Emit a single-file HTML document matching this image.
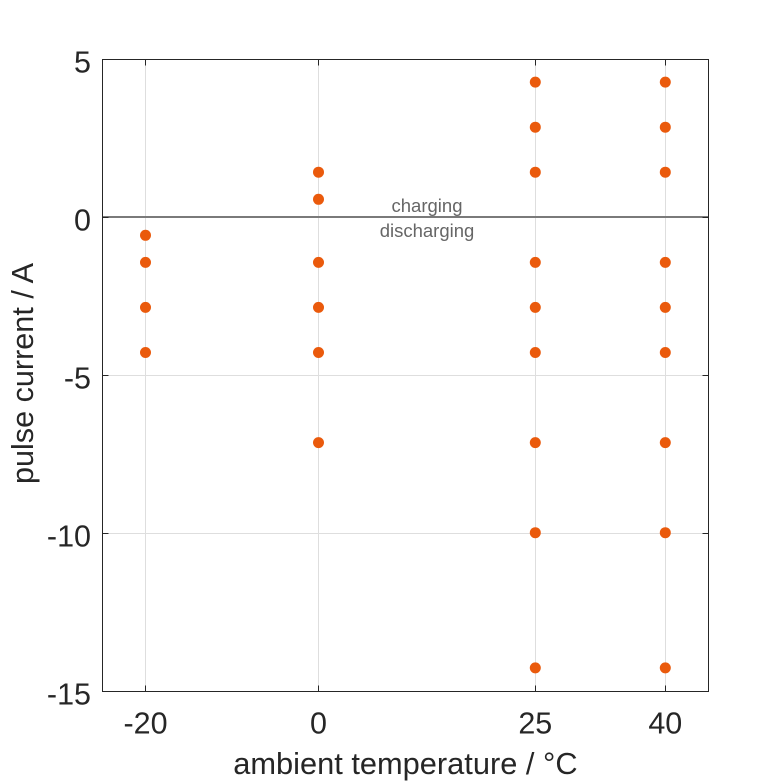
<!DOCTYPE html>
<html><head><meta charset="utf-8"><style>
html,body{margin:0;padding:0;background:#fff;}
svg{display:block;}
text{font-family:"Liberation Sans",Arial,sans-serif;}
</style></head><body>
<svg width="781" height="781" viewBox="0 0 781 781" xmlns="http://www.w3.org/2000/svg">
<rect width="781" height="781" fill="#fff"/>
<!-- grid -->
<g stroke="#dedede" stroke-width="1">
<line x1="145.5" y1="59.5" x2="145.5" y2="691.5"/>
<line x1="318.5" y1="59.5" x2="318.5" y2="691.5"/>
<line x1="535.5" y1="59.5" x2="535.5" y2="691.5"/>
<line x1="665.5" y1="59.5" x2="665.5" y2="691.5"/>
<line x1="102.5" y1="375.5" x2="708.5" y2="375.5"/>
<line x1="102.5" y1="533.5" x2="708.5" y2="533.5"/>
</g>
<!-- zero line -->
<line x1="102.5" y1="217" x2="708.5" y2="217" stroke="#7a7a7a" stroke-width="2"/>
<text x="427" y="212" font-size="18.5" fill="#666" text-anchor="middle">charging</text>
<text x="427" y="237" font-size="18.5" fill="#666" text-anchor="middle">discharging</text>
<!-- ticks -->
<g stroke="#262626" stroke-width="1">
<line x1="145.5" y1="59.5" x2="145.5" y2="65.5"/><line x1="145.5" y1="691.5" x2="145.5" y2="685.5"/>
<line x1="318.5" y1="59.5" x2="318.5" y2="65.5"/><line x1="318.5" y1="691.5" x2="318.5" y2="685.5"/>
<line x1="535.5" y1="59.5" x2="535.5" y2="65.5"/><line x1="535.5" y1="691.5" x2="535.5" y2="685.5"/>
<line x1="665.5" y1="59.5" x2="665.5" y2="65.5"/><line x1="665.5" y1="691.5" x2="665.5" y2="685.5"/>
<line x1="102.5" y1="217.5" x2="108.5" y2="217.5"/><line x1="708.5" y1="217.5" x2="702.5" y2="217.5"/>
<line x1="102.5" y1="375.5" x2="108.5" y2="375.5"/><line x1="708.5" y1="375.5" x2="702.5" y2="375.5"/>
<line x1="102.5" y1="533.5" x2="108.5" y2="533.5"/><line x1="708.5" y1="533.5" x2="702.5" y2="533.5"/>
</g>
<!-- points -->
<g fill="#ea5a0c">
<circle cx="145.5" cy="235.3" r="5.5"/>
<circle cx="145.5" cy="262.4" r="5.5"/>
<circle cx="145.5" cy="307.4" r="5.5"/>
<circle cx="145.5" cy="352.5" r="5.5"/>

<circle cx="318.5" cy="172.2" r="5.5"/>
<circle cx="318.5" cy="199.3" r="5.5"/>
<circle cx="318.5" cy="262.4" r="5.5"/>
<circle cx="318.5" cy="307.4" r="5.5"/>
<circle cx="318.5" cy="352.5" r="5.5"/>
<circle cx="318.5" cy="442.6" r="5.5"/>

<circle cx="535.3" cy="82.1" r="5.5"/>
<circle cx="535.3" cy="127.2" r="5.5"/>
<circle cx="535.3" cy="172.2" r="5.5"/>
<circle cx="535.3" cy="262.4" r="5.5"/>
<circle cx="535.3" cy="307.4" r="5.5"/>
<circle cx="535.3" cy="352.5" r="5.5"/>
<circle cx="535.3" cy="442.6" r="5.5"/>
<circle cx="535.3" cy="532.7" r="5.5"/>
<circle cx="535.3" cy="667.9" r="5.5"/>

<circle cx="665.3" cy="82.1" r="5.5"/>
<circle cx="665.3" cy="127.2" r="5.5"/>
<circle cx="665.3" cy="172.2" r="5.5"/>
<circle cx="665.3" cy="262.4" r="5.5"/>
<circle cx="665.3" cy="307.4" r="5.5"/>
<circle cx="665.3" cy="352.5" r="5.5"/>
<circle cx="665.3" cy="442.6" r="5.5"/>
<circle cx="665.3" cy="532.7" r="5.5"/>
<circle cx="665.3" cy="667.9" r="5.5"/>
</g>
<!-- axes box -->
<rect x="102.5" y="59.5" width="606" height="632" fill="none" stroke="#262626" stroke-width="1"/>
<!-- y tick labels -->
<g font-size="30.5" fill="#262626" text-anchor="end">
<text x="91" y="72.5">5</text>
<text x="91" y="230.5">0</text>
<text x="91" y="388.5">-5</text>
<text x="91" y="546.5">-10</text>
<text x="91" y="704.5">-15</text>
</g>
<!-- x tick labels -->
<g font-size="30.5" fill="#262626" text-anchor="middle">
<text x="145.5" y="733.5">-20</text>
<text x="318.5" y="733.5">0</text>
<text x="535.3" y="733.5">25</text>
<text x="665.3" y="733.5">40</text>
</g>
<!-- axis labels -->
<text x="405.4" y="774" font-size="30.8" fill="#262626" text-anchor="middle">ambient temperature / °C</text>
<text transform="translate(33,373.5) rotate(-90)" x="0" y="0" font-size="30.6" fill="#262626" text-anchor="middle">pulse current / A</text>
</svg>
</body></html>
